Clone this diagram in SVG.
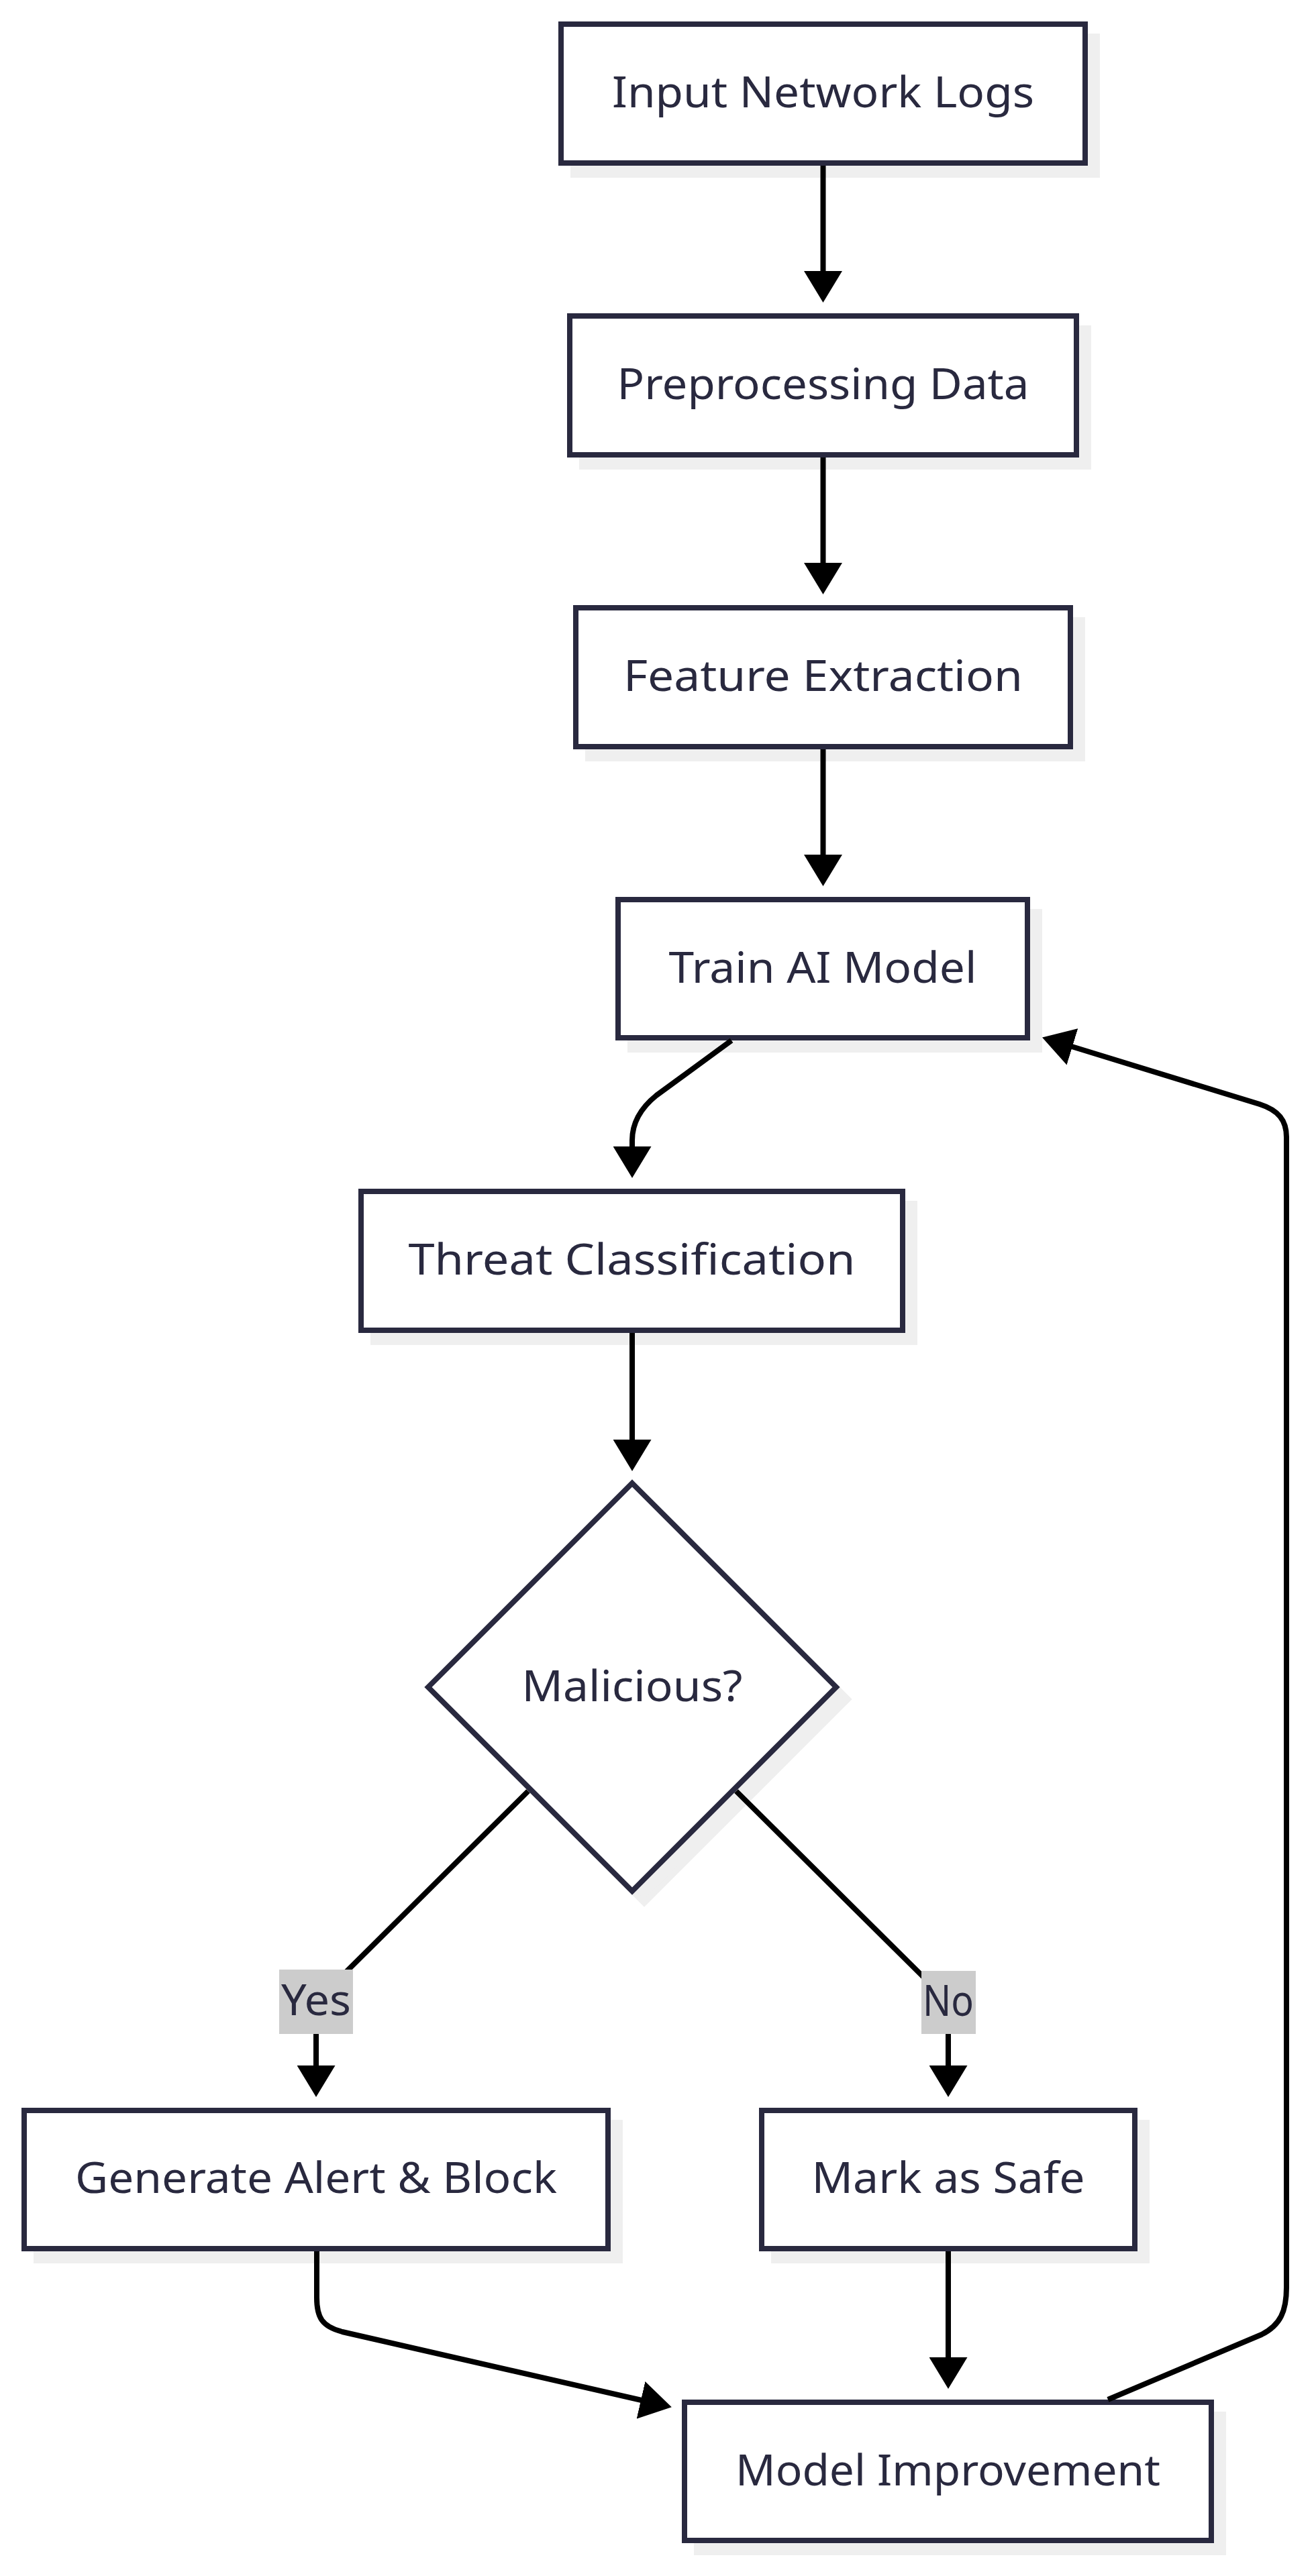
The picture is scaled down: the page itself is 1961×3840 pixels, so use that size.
<svg xmlns="http://www.w3.org/2000/svg" width="1961" height="3840" viewBox="0 0 1961 3840">
<style>
.shadow{fill:#efefef;stroke:#efefef;stroke-width:8}
.box{fill:#ffffff;stroke:#29293f;stroke-width:8}
.lbl{font-family:"Noto Sans","Liberation Sans",sans-serif;font-size:63px;fill:#29293f;text-anchor:middle}
.edge{fill:none;stroke:#000000;stroke-width:8}
.ebg{fill:#cccccc}
</style>
<defs>
<marker id="arrow" markerUnits="userSpaceOnUse" viewBox="0 0 47 57" markerWidth="47" markerHeight="57" refX="1" refY="28.5" orient="auto">
<path d="M0,0 L47,28.5 L0,57 Z" fill="#000000"/>
</marker>
</defs>
<rect width="1961" height="3840" fill="#ffffff"/>
<g id="nodes">
<g id="n1">
<rect class="shadow" x="854" y="54" width="781" height="207"/>
<rect class="box" x="836" y="36" width="781" height="207"/>
<text class="lbl" x="1226.5" y="160" textLength="629" lengthAdjust="spacingAndGlyphs">Input Network Logs</text>
</g>
<g id="n2">
<rect class="shadow" x="867" y="489" width="755" height="207"/>
<rect class="box" x="849" y="471" width="755" height="207"/>
<text class="lbl" x="1226.5" y="595" textLength="614" lengthAdjust="spacingAndGlyphs">Preprocessing Data</text>
</g>
<g id="n3">
<rect class="shadow" x="876" y="924" width="737" height="207"/>
<rect class="box" x="858" y="906" width="737" height="207"/>
<text class="lbl" x="1226.5" y="1030" textLength="595" lengthAdjust="spacingAndGlyphs">Feature Extraction</text>
</g>
<g id="n4">
<rect class="shadow" x="939" y="1359" width="610" height="206"/>
<rect class="box" x="921" y="1341" width="610" height="206"/>
<text class="lbl" x="1226" y="1465" textLength="459" lengthAdjust="spacingAndGlyphs">Train AI Model</text>
</g>
<g id="n5">
<rect class="shadow" x="556" y="1794" width="807" height="207"/>
<rect class="box" x="538" y="1776" width="807" height="207"/>
<text class="lbl" x="941.5" y="1900" textLength="666" lengthAdjust="spacingAndGlyphs">Threat Classification</text>
</g>
<g id="n6">
<polygon class="shadow" points="960,2229 1264,2533 960,2837 656,2533"/>
<polygon class="box" points="942,2211 1246,2515 942,2819 638,2515"/>
<text class="lbl" x="942" y="2536" textLength="329" lengthAdjust="spacingAndGlyphs">Malicious?</text>
</g>
<g id="n7">
<rect class="shadow" x="54" y="3164" width="870" height="206"/>
<rect class="box" x="36" y="3146" width="870" height="206"/>
<text class="lbl" x="471" y="3269" textLength="718" lengthAdjust="spacingAndGlyphs">Generate Alert &amp; Block</text>
</g>
<g id="n8">
<rect class="shadow" x="1153" y="3164" width="556" height="206"/>
<rect class="box" x="1135" y="3146" width="556" height="206"/>
<text class="lbl" x="1413" y="3269" textLength="407" lengthAdjust="spacingAndGlyphs">Mark as Safe</text>
</g>
<g id="n9">
<rect class="shadow" x="1038" y="3599" width="785" height="206"/>
<rect class="box" x="1020" y="3581" width="785" height="206"/>
<text class="lbl" x="1412.5" y="3705" textLength="633" lengthAdjust="spacingAndGlyphs">Model Improvement</text>
</g>
</g>
<g id="connectors">
<path class="edge" marker-end="url(#arrow)" d="M1226.5,247 L1226.5,405"/>
<path class="edge" marker-end="url(#arrow)" d="M1226.5,682 L1226.5,840"/>
<path class="edge" marker-end="url(#arrow)" d="M1226.5,1117 L1226.5,1275"/>
<path class="edge" marker-end="url(#arrow)" d="M1090,1551 L978,1633 C952,1654 942,1678 942,1700 L942,1710"/>
<path class="edge" marker-end="url(#arrow)" d="M942,1987 L942,2147"/>
<path class="edge" marker-end="url(#arrow)" d="M787,2670 L500,2955 Q471,2984 471,3010 L471,3080"/>
<path class="edge" marker-end="url(#arrow)" d="M1097,2670 L1384,2955 Q1413,2984 1413,3010 L1413,3080"/>
<path class="edge" marker-end="url(#arrow)" d="M472,3356 L472,3425 C472,3455 480,3468 510,3476 L956,3578"/>
<path class="edge" marker-end="url(#arrow)" d="M1413,3356 L1413,3515"/>
<path class="edge" marker-end="url(#arrow)" d="M1651,3577 L1880,3480 C1908,3466 1917,3445 1917,3410 L1917,1695 C1917,1670 1905,1655 1877,1646 L1597,1560"/>
</g>
<g id="edge-labels">
<rect class="ebg" x="416" y="2936" width="110" height="96"/>
<text class="lbl" x="471" y="3004" textLength="104" lengthAdjust="spacingAndGlyphs">Yes</text>
<rect class="ebg" x="1373" y="2938" width="81" height="94"/>
<text class="lbl" x="1413" y="3005" textLength="76" lengthAdjust="spacingAndGlyphs">No</text>
</g>
</svg>
